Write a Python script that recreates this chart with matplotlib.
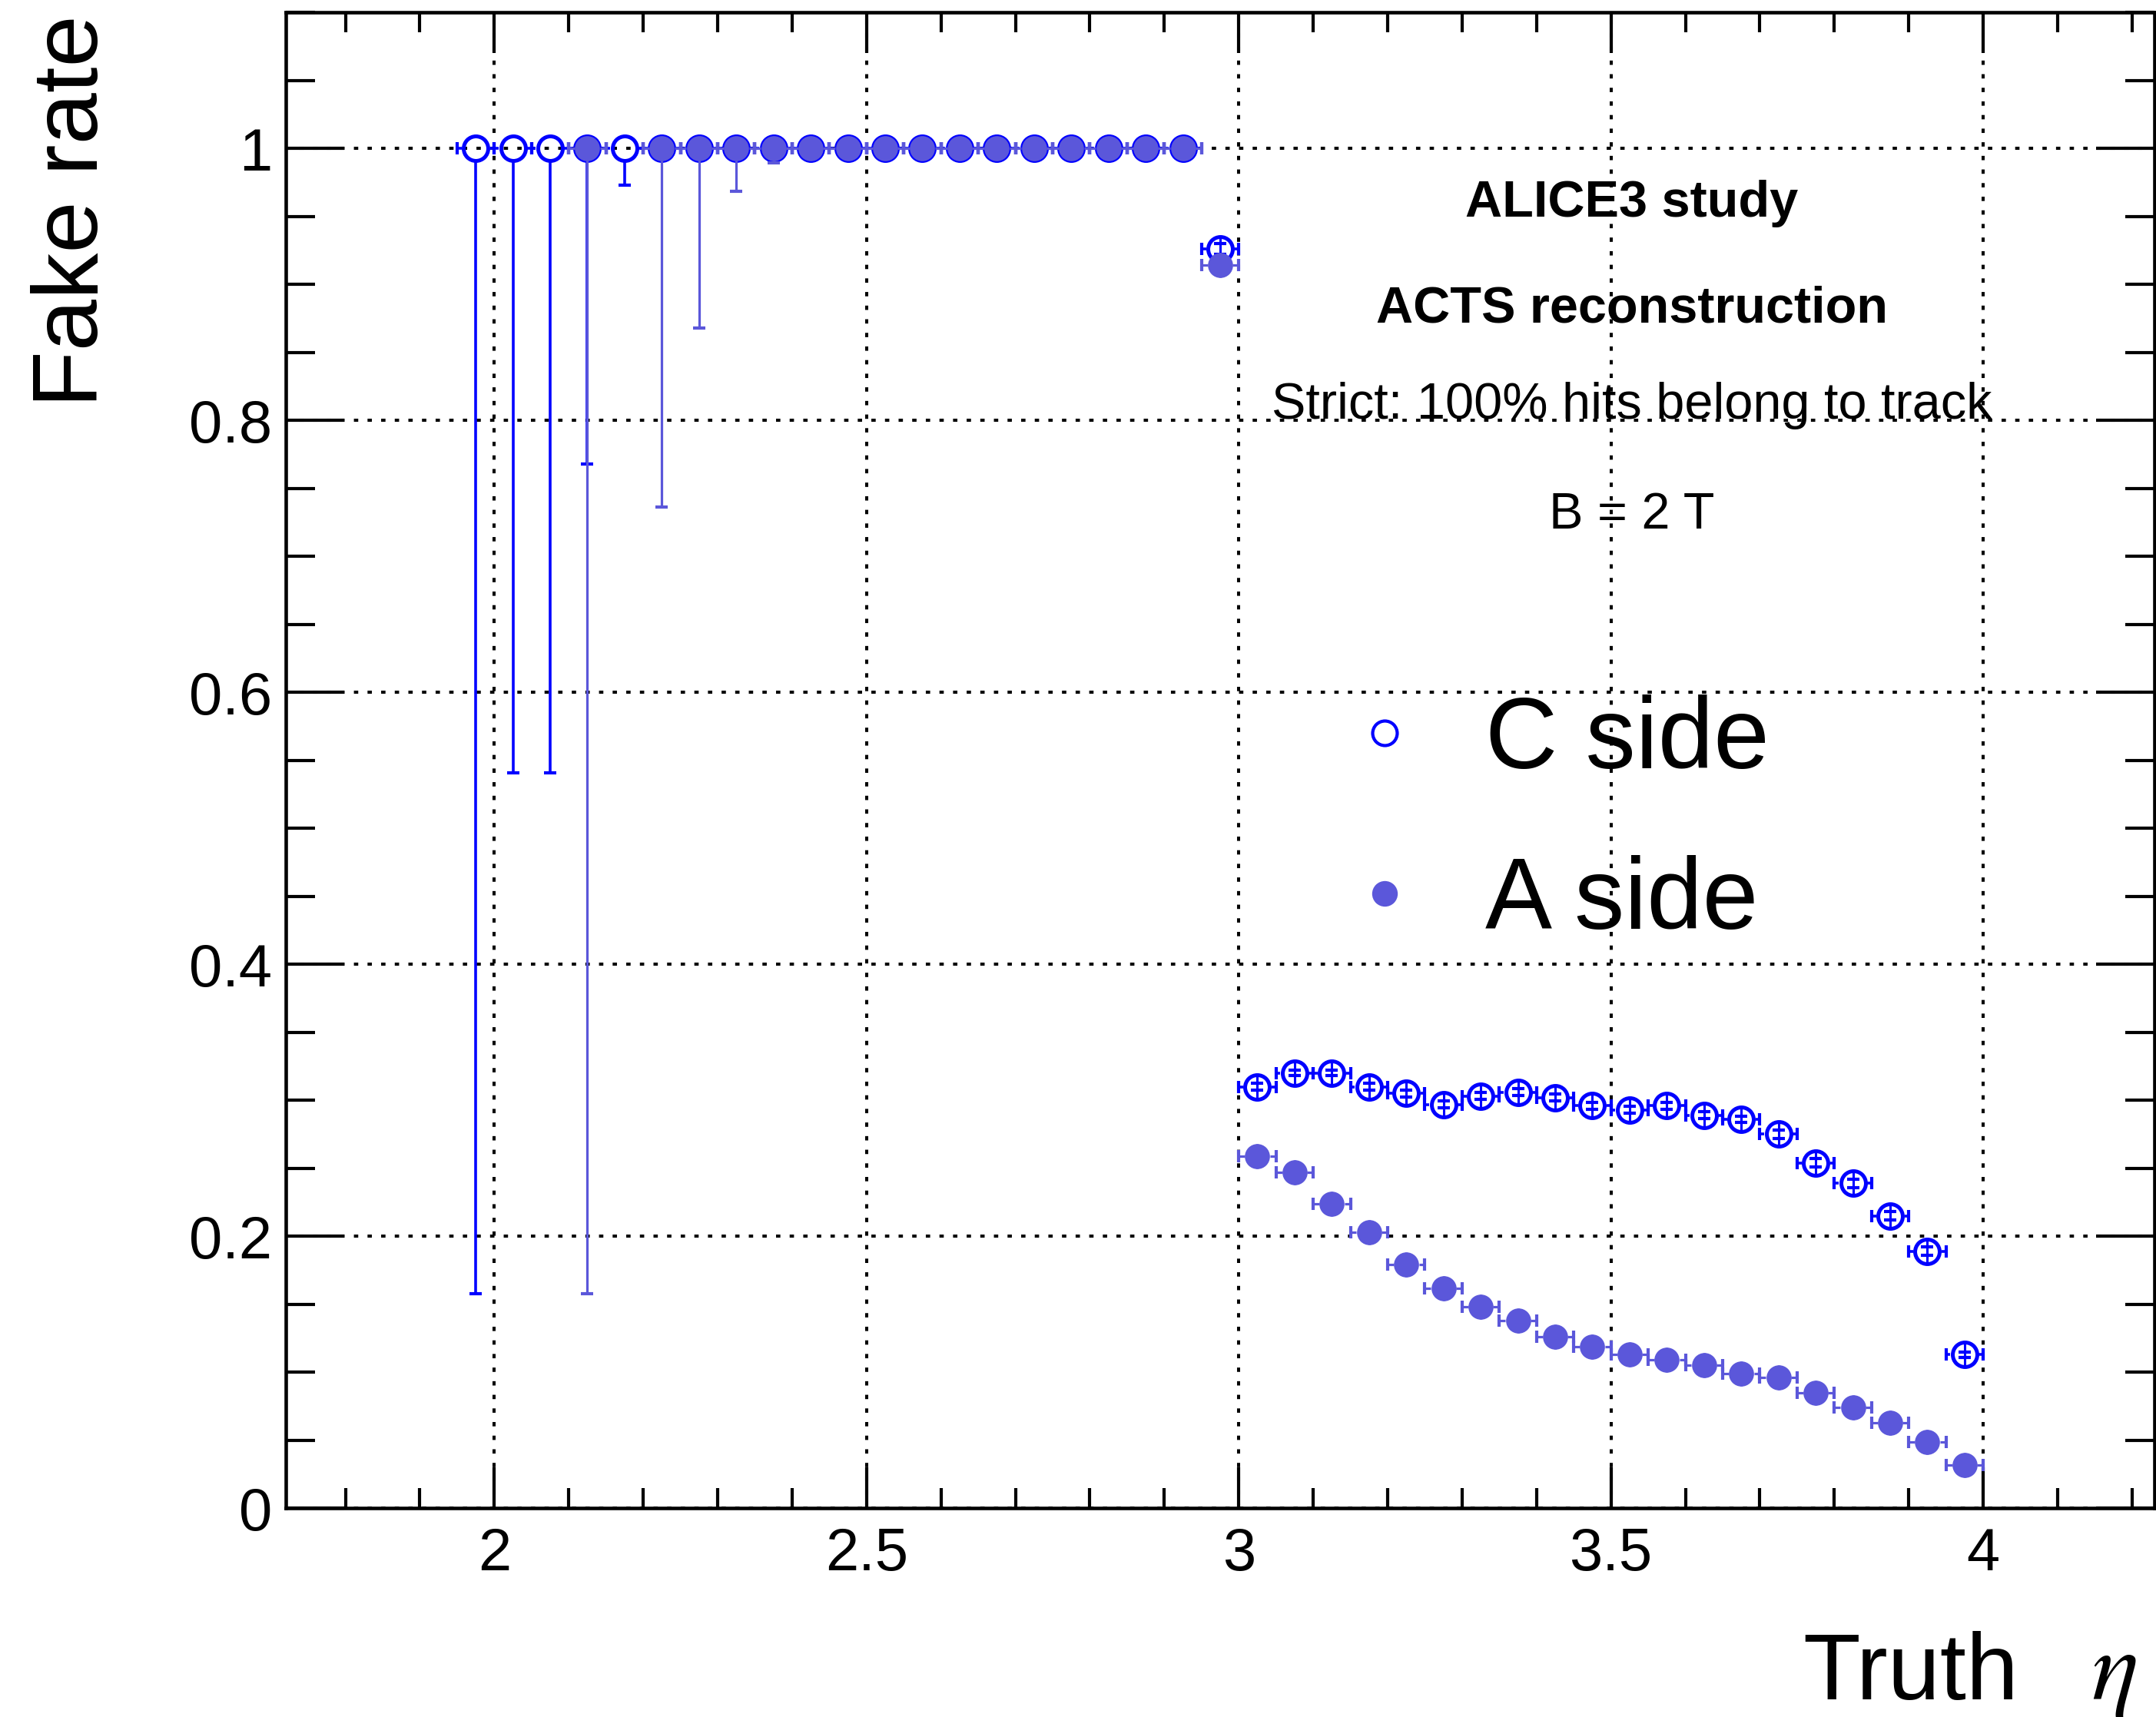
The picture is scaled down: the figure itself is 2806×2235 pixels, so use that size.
import numpy as np
import matplotlib
matplotlib.use("Agg")
import matplotlib.pyplot as plt
from matplotlib.lines import Line2D
from matplotlib.ticker import FixedLocator, MultipleLocator

plt.rcParams['font.family'] = ['Liberation Sans', 'DejaVu Sans']

# ---------------------------------------------------------------- data
eta_centers = np.array([
    1.975, 2.025, 2.075, 2.125, 2.175, 2.225, 2.275, 2.325, 2.375, 2.425,
    2.475, 2.525, 2.575, 2.625, 2.675, 2.725, 2.775, 2.825, 2.875, 2.925,
    2.975, 3.025, 3.075, 3.125, 3.175, 3.225, 3.275, 3.325, 3.375, 3.425,
    3.475, 3.525, 3.575, 3.625, 3.675, 3.725, 3.775, 3.825, 3.875, 3.925,
    3.975])
bin_half_width = 0.025

nan = np.nan

c_side_rate = np.array([
    1.0, 1.0, 1.0, 1.0, 1.0, 1.0, 1.0, 1.0, 1.0, 1.0,
    1.0, 1.0, 1.0, 1.0, 1.0, 1.0, 1.0, 1.0, 1.0, 1.0,
    0.926, 0.310, 0.320, 0.320, 0.310, 0.305, 0.297, 0.303, 0.306, 0.302,
    0.296, 0.293, 0.296, 0.289, 0.286, 0.275, 0.254, 0.239, 0.215, 0.189,
    0.113])
c_side_err_low = np.array([
    0.842, 0.459, 0.459, 0.232, 0.027, 0.0, 0.0, 0.0, 0.0, 0.0,
    0.0, 0.0, 0.0, 0.0, 0.0, 0.0, 0.0, 0.0, 0.0, 0.0,
    0.004, 0.0025, 0.002, 0.002, 0.0025, 0.0025, 0.0025, 0.0025, 0.0025, 0.0025,
    0.0025, 0.0025, 0.0025, 0.0025, 0.0025, 0.003, 0.003, 0.003, 0.003, 0.003,
    0.002])
c_side_err_high = np.array([
    0.0, 0.0, 0.0, 0.0, 0.0, 0.0, 0.0, 0.0, 0.0, 0.0,
    0.0, 0.0, 0.0, 0.0, 0.0, 0.0, 0.0, 0.0, 0.0, 0.0,
    0.004, 0.0025, 0.002, 0.002, 0.0025, 0.0025, 0.0025, 0.0025, 0.0025, 0.0025,
    0.0025, 0.0025, 0.0025, 0.0025, 0.0025, 0.003, 0.003, 0.003, 0.003, 0.003,
    0.002])

a_side_rate = np.array([
    nan, nan, nan, 1.0, nan, 1.0, 1.0, 1.0, 1.0, 1.0,
    1.0, 1.0, 1.0, 1.0, 1.0, 1.0, 1.0, 1.0, 1.0, 1.0,
    0.914, 0.259, 0.247, 0.224, 0.203, 0.179, 0.162, 0.148, 0.138, 0.126,
    0.119, 0.113, 0.109, 0.105, 0.099, 0.096, 0.085, 0.074, 0.063, 0.049,
    0.032])
a_side_err_low = np.array([
    nan, nan, nan, 0.842, nan, 0.264, 0.132, 0.0315, 0.0105, 0.0,
    0.0, 0.0, 0.0, 0.0, 0.0, 0.0, 0.0, 0.0, 0.0, 0.0,
    0.004, 0.003, 0.003, 0.003, 0.003, 0.003, 0.003, 0.003, 0.003, 0.003,
    0.003, 0.003, 0.003, 0.003, 0.003, 0.003, 0.003, 0.003, 0.003, 0.003,
    0.002])
a_side_err_high = np.array([
    nan, nan, nan, 0.0, nan, 0.0, 0.0, 0.0, 0.0, 0.0,
    0.0, 0.0, 0.0, 0.0, 0.0, 0.0, 0.0, 0.0, 0.0, 0.0,
    0.004, 0.003, 0.003, 0.003, 0.003, 0.003, 0.003, 0.003, 0.003, 0.003,
    0.003, 0.003, 0.003, 0.003, 0.003, 0.003, 0.003, 0.003, 0.003, 0.003,
    0.002])

x_major_ticks = [2.0, 2.5, 3.0, 3.5, 4.0]
x_tick_labels = ['2', '2.5', '3', '3.5', '4']
y_major_ticks = [0.0, 0.2, 0.4, 0.6, 0.8, 1.0]
y_tick_labels = ['0', '0.2', '0.4', '0.6', '0.8', '1']

info_lines = ['ALICE3 study', 'ACTS reconstruction',
              'Strict: 100% hits belong to track', 'B = 2 T']
info_bold = [True, True, False, False]
legend_labels = ['C side', 'A side']

C_COLOR = '#0000ff'
A_COLOR = '#5b57da'

# ---------------------------------------------------------------- figure
W, H = 2806, 2235
DPI = 100
fig = plt.figure(figsize=(W / DPI, H / DPI), dpi=DPI)


def fx(px):
    return px / W


def fy(px):
    return 1 - px / H


ax_left, ax_right, ax_top, ax_bottom = 372, 2804, 16, 1963.3
ax = fig.add_axes([fx(ax_left), fy(ax_bottom),
                   (ax_right - ax_left) / W, (ax_bottom - ax_top) / H])
ax.set_xlim(1.72, 4.23)
ax.set_ylim(0.0, 1.1)

for sp in ax.spines.values():
    sp.set_linewidth(3.3)

ax.xaxis.set_major_locator(FixedLocator(x_major_ticks))
ax.xaxis.set_minor_locator(MultipleLocator(0.1))
ax.yaxis.set_major_locator(FixedLocator(y_major_ticks))
ax.yaxis.set_minor_locator(MultipleLocator(0.05))
ax.set_xticklabels(x_tick_labels)
ax.set_yticklabels(y_tick_labels)

ax.tick_params(which='both', direction='in', top=True, right=True,
               width=3.0, labelsize=56)
ax.tick_params(axis='x', which='major', length=38, pad=17)
ax.tick_params(axis='x', which='minor', length=19)
ax.tick_params(axis='y', which='major', length=55, pad=13)
ax.tick_params(axis='y', which='minor', length=27.5)

ax.set_axisbelow(True)
ax.grid(True, which='major', color='black', linewidth=2.9,
        linestyle=(0, (1.4, 3.0)))


# ---------------------------------------------------------------- series
def draw_rate(ax, x, y, lo, hi, color, filled, z):
    pt2px = fig.dpi / 72.0
    ms = 23.5 if filled else 23.0
    mew = 0.0 if filled else 3.6
    lw = 2.3 if filled else 2.6
    cap_len, cap_w = 12.0, 3.0
    radius_px = (ms + mew) / 2 * pt2px

    o = ax.transData.transform((0, 0))
    px_x = ax.transData.transform((1, 0))[0] - o[0]
    px_y = ax.transData.transform((0, 1))[1] - o[1]
    gx = radius_px / px_x
    gy = radius_px / px_y

    ok = ~np.isnan(y)
    x, y, lo, hi = x[ok], y[ok], lo[ok], hi[ok]

    # horizontal bin-width bars, drawn outside the marker
    ax.hlines(y, x - bin_half_width, x - gx, color=color, lw=lw, zorder=z)
    ax.hlines(y, x + gx, x + bin_half_width, color=color, lw=lw, zorder=z)
    for xe in (x - bin_half_width, x + bin_half_width):
        ax.plot(xe, y, ls='none', marker='|', ms=cap_len, mew=cap_w,
                color=color, zorder=z)

    # vertical error bars
    m = lo > gy
    ax.vlines(x[m], (y - lo)[m], (y - gy)[m], color=color, lw=lw, zorder=z)
    m = hi > gy
    ax.vlines(x[m], (y + gy)[m], (y + hi)[m], color=color, lw=lw, zorder=z)
    m = lo > 0
    ax.plot(x[m], (y - lo)[m], ls='none', marker='_', ms=cap_len,
            mew=cap_w, color=color, zorder=z)
    m = hi > 0
    ax.plot(x[m], (y + hi)[m], ls='none', marker='_', ms=cap_len,
            mew=cap_w, color=color, zorder=z)
    # short errors: the bar spans the marker interior
    m = (lo > 0) & (lo <= gy) & (hi <= gy)
    ax.plot(x[m], y[m], ls='none', marker='|', ms=ms, mew=2.2,
            color=color, zorder=z)

    ax.plot(x, y, ls='none', marker='o', ms=ms,
            mfc=color if filled else 'none', mec=color, mew=mew,
            zorder=z + 0.5)


draw_rate(ax, eta_centers, c_side_rate, c_side_err_low, c_side_err_high,
          C_COLOR, False, 3)
draw_rate(ax, eta_centers, a_side_rate, a_side_err_low, a_side_err_high,
          A_COLOR, True, 4)

# ---------------------------------------------------------------- legend
handles = [
    Line2D([], [], ls='none', marker='o', ms=23.0, mfc='none',
           mec=C_COLOR, mew=3.0),
    Line2D([], [], ls='none', marker='o', ms=24.0, mfc=A_COLOR,
           mec=A_COLOR, mew=0.0),
]
ax.legend(handles, legend_labels, loc='upper left',
          bbox_to_anchor=(fx(1737), fy(904)), bbox_transform=fig.transFigure,
          frameon=False, fontsize=94, handlelength=1.0, handletextpad=0.5,
          labelspacing=0.66, borderpad=0.0, borderaxespad=0.0, numpoints=1)

# ---------------------------------------------------------------- text
info_baselines = [282, 419, 545, 688]
for txt, bold, yb in zip(info_lines, info_bold, info_baselines):
    fig.text(fx(2124), fy(yb), txt, ha='center', va='baseline', fontsize=48,
             fontweight='bold' if bold else 'normal')

fig.text(fx(127.5), fy(19), 'Fake rate', rotation=90, rotation_mode='anchor',
         ha='right', va='baseline', fontsize=87)
fig.text(fx(2346), fy(2212), 'Truth', ha='left', va='baseline', fontsize=88)
fig.text(fx(2722), fy(2212), r'$\eta$', ha='left', va='baseline',
         fontsize=92, math_fontfamily='stix')

fig.savefig('out.png', dpi=DPI)
